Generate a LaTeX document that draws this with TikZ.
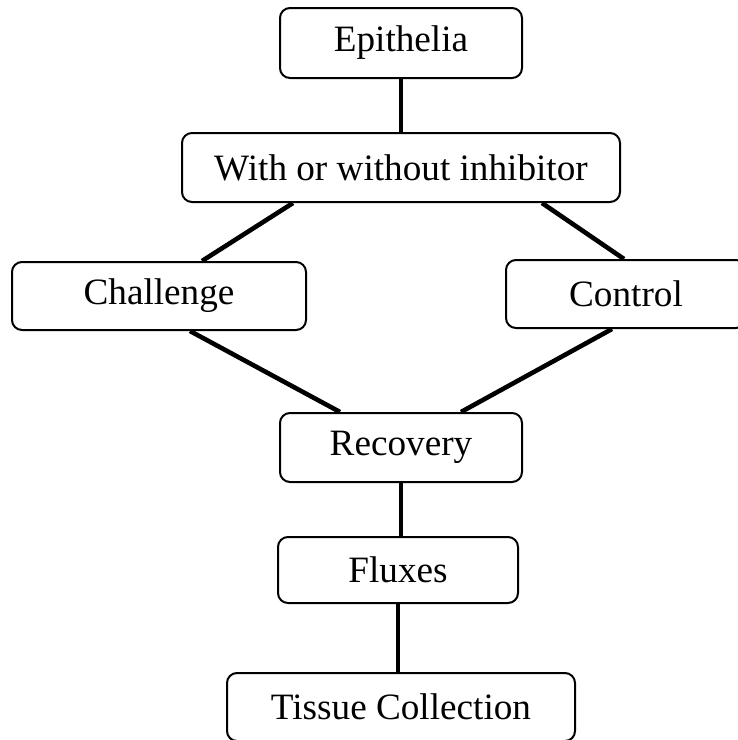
\documentclass[tikz,border=0pt]{standalone}
\usepackage{fontspec}
\setmainfont{Liberation Serif}

\begin{document}
\begin{tikzpicture}[
x=0.5pt, y=-0.5pt,
box/.style={rectangle, rounded corners=5pt, draw=black, line width=1pt, fill=white, inner sep=0pt, font=\fontsize{18.6}{22}\selectfont},
link/.style={line width=2.3pt},
]
\useasboundingbox (0,0) rectangle (738,740);
\node (epi) [box, minimum width=121pt, minimum height=35pt] at (401,43) {Epithelia};
\node (inh) [box, minimum width=219pt, minimum height=34.5pt] at (401,167.5) {With or without inhibitor};
\node (chal) [box, minimum width=147pt, minimum height=34pt] at (159,296) {Challenge};
\node (ctrl) [box, minimum width=120pt, minimum height=34pt] at (626,294) {Control};
\node (rec) [box, minimum width=121pt, minimum height=34.5pt] at (401,447.5) {Recovery};
\node (flux) [box, minimum width=120pt, minimum height=33pt] at (398,570) {Fluxes};
\node (tis) [box, minimum width=174pt, minimum height=34pt] at (401,707) {Tissue Collection};
\draw[link] (epi.south) -- (inh.north);
\draw[link] ([xshift=-54pt]inh.south) -- ([xshift=21.5pt]chal.north);
\draw[link] ([xshift=70.5pt]inh.south) -- ([xshift=-1pt]ctrl.north);
\draw[link] ([xshift=15.5pt]chal.south) -- ([xshift=-30.5pt]rec.north);
\draw[link] ([xshift=-7pt]ctrl.south) -- ([xshift=30pt]rec.north);
\draw[link] (rec.south) -- (rec.south |- flux.north);
\draw[link] (flux.south) -- (flux.south |- tis.north);
\end{tikzpicture}
\end{document}
